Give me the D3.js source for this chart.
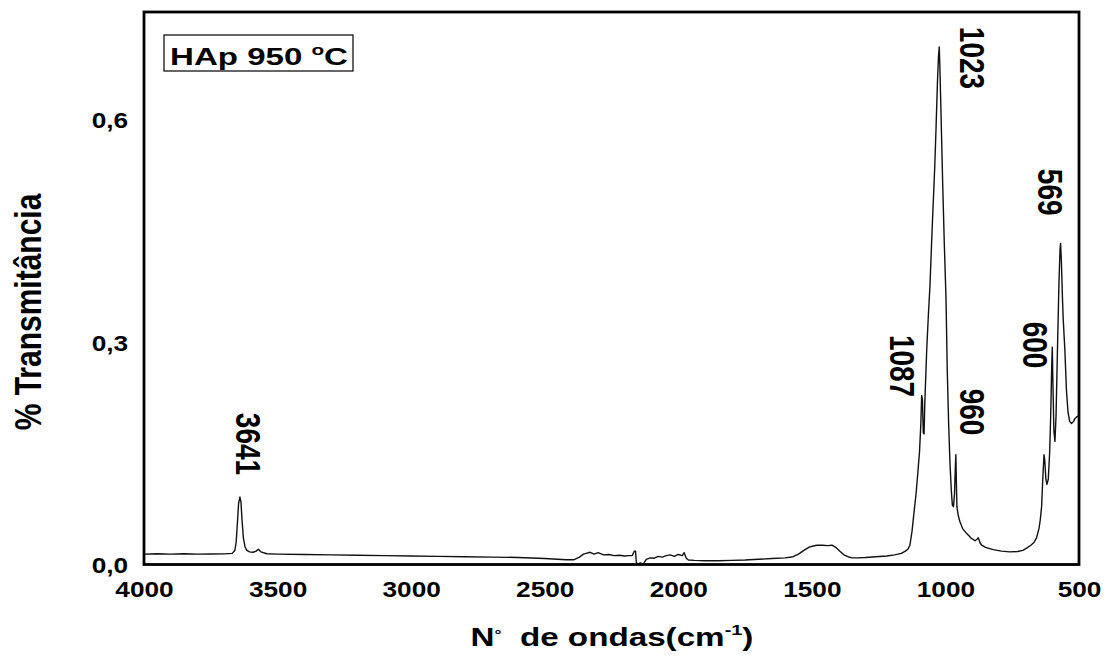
<!DOCTYPE html>
<html>
<head>
<meta charset="utf-8">
<script src="https://cdn.jsdelivr.net/npm/d3@7"></script>
<style>
  html, body { margin: 0; padding: 0; background: #fff; }
  svg { display: block; }
  text { font-family: "Liberation Sans", Arial, sans-serif; font-weight: bold; fill: #000; }
</style>
</head>
<body>
<svg id="chart" width="1109" height="657"></svg>
<script>
// ---- data ----
const xTicks = [4000, 3500, 3000, 2500, 2000, 1500, 1000, 500];
const yTicks = [0.0, 0.3, 0.6];
const yTickLabels = ["0,0", "0,3", "0,6"];

const wavenumber = [4000, 3950, 3900, 3850, 3800, 3750, 3700, 3670, 3660, 3655, 3650, 3646, 3641, 3637, 3633, 3628, 3622, 3615, 3605, 3592, 3580, 3572, 3562, 3540, 3500, 3400, 3300, 3200, 3100, 3000, 2900, 2800, 2700, 2600, 2500, 2420, 2390, 2370, 2355, 2345, 2330, 2315, 2300, 2280, 2260, 2240, 2220, 2200, 2185, 2172, 2165, 2160, 2157, 2150, 2140, 2132, 2120, 2105, 2090, 2075, 2060, 2045, 2030, 2015, 2000, 1985, 1978, 1970, 1962, 1940, 1900, 1850, 1800, 1750, 1700, 1650, 1600, 1570, 1550, 1530, 1510, 1495, 1480, 1460, 1440, 1425, 1410, 1395, 1380, 1365, 1350, 1330, 1300, 1260, 1220, 1190, 1165, 1150, 1140, 1133, 1125, 1118, 1110, 1103, 1097, 1092, 1089, 1086, 1083, 1080, 1077, 1070, 1064, 1058, 1050, 1040, 1035, 1030, 1026, 1023, 1020, 1016, 1010, 1004, 998, 993, 988, 983, 978, 974, 970, 966, 963, 961, 959, 957, 952, 946, 935, 921, 905, 889, 882, 877, 870, 864, 850, 821, 790, 759, 730, 710, 696, 680, 668, 659, 650, 645, 640, 635, 631, 628, 624, 620, 615, 610, 606, 602, 600, 598, 594, 590, 586, 580, 575, 571, 569, 566, 562, 559, 553, 547, 541, 535, 528, 520, 515, 509, 504, 500];

const transmittance = [0.014, 0.0145, 0.014, 0.0145, 0.014, 0.0142, 0.0143, 0.015, 0.019, 0.03, 0.058, 0.082, 0.091, 0.084, 0.06, 0.036, 0.024, 0.019, 0.017, 0.0165, 0.018, 0.0205, 0.017, 0.0145, 0.014, 0.0135, 0.013, 0.0125, 0.012, 0.0115, 0.011, 0.0105, 0.01, 0.0095, 0.008, 0.0065, 0.0065, 0.010, 0.014, 0.015, 0.0165, 0.014, 0.016, 0.013, 0.0135, 0.012, 0.0125, 0.0115, 0.012, 0.012, 0.018, 0.018, 0.002, 0.001, 0.002, 0.0, 0.007, 0.009, 0.0085, 0.011, 0.010, 0.012, 0.013, 0.011, 0.0135, 0.012, 0.016, 0.0085, 0.006, 0.0055, 0.005, 0.005, 0.0055, 0.006, 0.007, 0.008, 0.009, 0.0105, 0.014, 0.019, 0.0235, 0.025, 0.026, 0.026, 0.0255, 0.026, 0.023, 0.018, 0.013, 0.0105, 0.009, 0.009, 0.0095, 0.0105, 0.0115, 0.013, 0.015, 0.018, 0.021, 0.026, 0.045, 0.069, 0.095, 0.125, 0.152, 0.19, 0.228, 0.222, 0.178, 0.176, 0.22, 0.29, 0.335, 0.375, 0.45, 0.536, 0.59, 0.649, 0.685, 0.698, 0.66, 0.6, 0.51, 0.43, 0.361, 0.26, 0.19, 0.137, 0.1, 0.08, 0.078, 0.095, 0.13, 0.148, 0.11, 0.078, 0.066, 0.058, 0.048, 0.042, 0.036, 0.032, 0.034, 0.036, 0.029, 0.026, 0.023, 0.02, 0.018, 0.017, 0.0175, 0.019, 0.022, 0.026, 0.03, 0.036, 0.048, 0.06, 0.078, 0.12, 0.148, 0.14, 0.115, 0.108, 0.115, 0.15, 0.2, 0.27, 0.293, 0.25, 0.18, 0.166, 0.2, 0.3, 0.38, 0.425, 0.433, 0.41, 0.36, 0.33, 0.29, 0.235, 0.205, 0.193, 0.19, 0.193, 0.197, 0.199, 0.2, 0.199];

const peakLabels = ["3641", "1087", "1023", "960", "600", "569"];
const peakLabelWn = [3614, 1163, 904, 904, 665, 609];
const peakLabelT  = [0.1625, 0.2676, 0.683, 0.2056, 0.296, 0.502];

const legendText = "HAp 950";
const xTitle = "de ondas(cm";
const yTitle = "% Transmitância";

// ---- layout ----
const svg = d3.select("#chart");
const pLeft = 144, pRight = 1079, pTop = 12, pBottom = 564.5;
const SX = 1.22; // horizontal text stretch seen in the reference

const x = d3.scaleLinear().domain([4000, 500]).range([pLeft, pRight]);
const y = d3.scaleLinear().domain([0, 0.745]).range([pBottom, pTop]);

// spectrum line
const pts = wavenumber.map((w, i) => [w, transmittance[i]]);
svg.append("path")
  .datum(pts)
  .attr("fill", "none")
  .attr("stroke", "#111")
  .attr("stroke-width", 1.4)
  .attr("stroke-linejoin", "round")
  .attr("d", d3.line().x(d => x(d[0])).y(d => y(d[1])));

// frame
svg.append("rect")
  .attr("x", x(4000)).attr("y", y(0.745))
  .attr("width", x(500) - x(4000)).attr("height", y(0) - y(0.745))
  .attr("fill", "none").attr("stroke", "#000").attr("stroke-width", 2.8);

// x axis
const gx = svg.append("g").attr("transform", `translate(0,${pBottom})`)
  .call(d3.axisBottom(x).tickValues(xTicks).tickSize(0).tickPadding(17).tickFormat(d3.format("d")));
gx.select(".domain").remove();
gx.attr("font-family", null).attr("font-size", null);
gx.selectAll("text").attr("font-size", 21.5)
  .attr("transform", `scale(${SX},1)`);

// y axis
const gy = svg.append("g").attr("transform", `translate(${pLeft},0)`)
  .call(d3.axisLeft(y).tickValues(yTicks).tickSize(0).tickPadding(13)
    .tickFormat((d, i) => yTickLabels[i]));
gy.select(".domain").remove();
gy.attr("font-family", null).attr("font-size", null);
gy.selectAll("text").attr("font-size", 21.5)
  .attr("transform", `scale(${SX},1)`).attr("dy", "0.38em");

// peak labels
peakLabels.forEach((lab, i) => {
  svg.append("g")
    .attr("transform", `translate(${x(peakLabelWn[i])},${y(peakLabelT[i])})`)
    .append("text")
    .attr("transform", `scale(${SX},1) rotate(90)`)
    .attr("text-anchor", "middle")
    .attr("dominant-baseline", "central")
    .attr("font-size", 28)
    .text(lab);
});

// legend box
svg.append("rect").attr("x", 164).attr("y", 35).attr("width", 189).attr("height", 36)
  .attr("fill", "#fff").attr("stroke", "#000").attr("stroke-width", 1.2);
const lg = svg.append("g").attr("transform", "translate(259,65)");
const lt = lg.append("text").attr("text-anchor", "middle").attr("font-size", 24);
lt.append("tspan").text(legendText + "\u00A0");
lt.append("tspan").attr("font-size", 15).attr("dy", -10).text("o");
lt.append("tspan").attr("dy", 10).text("C");
lt.attr("transform", `scale(${178 / lt.node().getBBox().width},1)`);

// x title
const xt = svg.append("g").attr("transform", "translate(612,646)")
  .append("text").attr("text-anchor", "middle").attr("font-size", 25);
xt.append("tspan").text("N");
xt.append("tspan").attr("font-size", 13).attr("dy", -7).text("°");
xt.append("tspan").attr("dy", 7).text("\u00A0\u00A0" + xTitle);
xt.append("tspan").attr("font-size", 15).attr("dy", -11).text("-1");
xt.append("tspan").attr("dy", 11).text(")");
xt.attr("transform", `scale(${283 / xt.node().getBBox().width},1)`);

// y title
svg.append("g").attr("transform", "translate(28,312)")
  .append("text")
  .attr("transform", `scale(${SX},1) rotate(-90)`)
  .attr("text-anchor", "middle")
  .attr("dominant-baseline", "central")
  .attr("font-size", 30)
  .text(yTitle);
</script>
</body>
</html>
